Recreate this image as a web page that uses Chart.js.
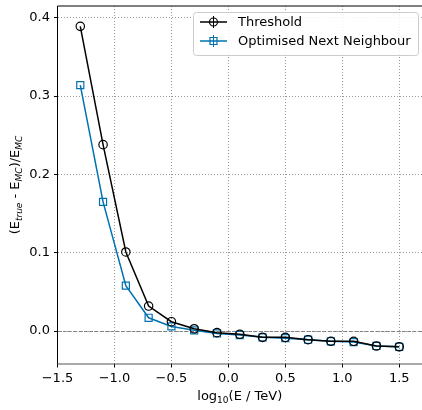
<!DOCTYPE html>
<html>
<head>
<meta charset="utf-8">
<script src="https://cdn.jsdelivr.net/npm/chart.js@4"></script>
<style>
  html, body { margin: 0; padding: 0; background: #fff; }
  #wrap { width: 422px; height: 410px; }
</style>
</head>
<body>
<div id="wrap"><canvas id="myChart" width="422" height="410"></canvas></div>
<script>
// data
const energies = [-1.3, -1.1, -0.9, -0.7, -0.5, -0.3, -0.1, 0.1, 0.3, 0.5, 0.7, 0.9, 1.1, 1.3, 1.5];
const thresholdBias = [0.389, 0.238, 0.101, 0.032, 0.012, 0.003, -0.002, -0.004, -0.008, -0.008, -0.011, -0.013, -0.013, -0.019, -0.020];
const nextNeighbourBias = [0.314, 0.165, 0.058, 0.017, 0.006, 0.001, -0.003, -0.005, -0.008, -0.009, -0.011, -0.013, -0.014, -0.019, -0.020];
const xTicks = [-1.5, -1.0, -0.5, 0.0, 0.5, 1.0, 1.5];
const yTicks = [0.0, 0.1, 0.2, 0.3, 0.4];
const seriesNames = ['Threshold', 'Optimised Next Neighbour'];
const seriesColors = ['#000000', '#0072B2'];

const FONT = '"DejaVu Sans", sans-serif';

function fmt(v) {
  const s = Math.abs(v).toFixed(1);
  return v < -1e-9 ? '\u2212' + s : s;
}

function toPoints(ys) {
  return energies.map((x, i) => ({ x: x, y: ys[i] }));
}

// zero line, spines, axis titles and legend
const extras = {
  id: 'extras',
  beforeDatasetsDraw(chart) {
    const ctx = chart.ctx;
    const a = chart.chartArea;
    const y0 = Math.round(chart.scales.y.getPixelForValue(0)) + 0.5;
    ctx.save();
    ctx.strokeStyle = '#808080';
    ctx.lineWidth = 1;
    ctx.setLineDash([3.7, 1.6]);
    ctx.beginPath();
    ctx.moveTo(a.left, y0);
    ctx.lineTo(a.right, y0);
    ctx.stroke();
    ctx.restore();
  },
  afterDraw(chart) {
    const ctx = chart.ctx;
    const a = chart.chartArea;
    ctx.save();
    // spines
    ctx.strokeStyle = '#000';
    ctx.lineWidth = 1;
    ctx.beginPath();
    ctx.moveTo(a.left, a.bottom);
    ctx.lineTo(a.left, a.top);
    ctx.lineTo(a.right + 1, a.top);
    ctx.stroke();
    ctx.strokeStyle = '#555';
    ctx.beginPath();
    ctx.moveTo(a.left, a.bottom);
    ctx.lineTo(a.right + 1, a.bottom);
    ctx.stroke();

    // axis titles with subscripts
    function drawRich(parts, x, y) {
      let w = 0;
      parts.forEach(p => {
        ctx.font = (p.sub ? (p.it ? 'italic 9px ' : '9px ') : '13px ') + FONT;
        w += ctx.measureText(p.t).width;
      });
      let cx = x - w / 2;
      parts.forEach(p => {
        ctx.font = (p.sub ? (p.it ? 'italic 9px ' : '9px ') : '13px ') + FONT;
        ctx.fillText(p.t, cx, p.sub ? y + 3 : y);
        cx += ctx.measureText(p.t).width;
      });
    }
    ctx.fillStyle = '#000';
    ctx.textBaseline = 'alphabetic';
    drawRich([
      { t: 'log' }, { t: '10', sub: true }, { t: '(E / TeV)' }
    ], (a.left + a.right) / 2, 400);

    ctx.save();
    ctx.translate(19, (a.top + a.bottom) / 2);
    ctx.rotate(-Math.PI / 2);
    drawRich([
      { t: '(E' }, { t: 'true', sub: true, it: true }, { t: ' - E' },
      { t: 'MC', sub: true, it: true }, { t: ')/E' }, { t: 'MC', sub: true, it: true }
    ], 0, 0);
    ctx.restore();

    // legend
    const lx = 193, ly = 12, lw = 225, lh = 43;
    ctx.fillStyle = 'rgba(255,255,255,0.85)';
    ctx.strokeStyle = '#cccccc';
    ctx.lineWidth = 1;
    ctx.beginPath();
    ctx.roundRect(lx + 0.5, ly + 0.5, lw, lh, 3);
    ctx.fill();
    ctx.stroke();
    const rows = [22, 41];
    rows.forEach((ry, i) => {
      const col = seriesColors[i];
      const mx = 213.5;
      ctx.strokeStyle = col;
      ctx.lineWidth = 1.5;
      ctx.beginPath();
      ctx.moveTo(200, ry);
      ctx.lineTo(227, ry);
      ctx.stroke();
      ctx.lineWidth = 1;
      ctx.beginPath();
      ctx.moveTo(mx, ry - 6);
      ctx.lineTo(mx, ry + 6);
      ctx.stroke();
      ctx.lineWidth = 1.2;
      ctx.beginPath();
      if (i === 0) {
        ctx.arc(mx, ry, 4, 0, Math.PI * 2);
      } else {
        ctx.rect(mx - 3.5, ry - 3.5, 7, 7);
      }
      ctx.stroke();
      ctx.fillStyle = '#000';
      ctx.font = '13px ' + FONT;
      ctx.textBaseline = 'middle';
      ctx.fillText(seriesNames[i], 238, ry + 0.5);
    });
    ctx.restore();
  }
};

const gridOpts = {
  color: '#999',
  lineWidth: 1,
  drawTicks: true,
  tickLength: 3.5,
  tickColor: '#000',
  tickBorderDash: []
};

const ctx = document.getElementById('myChart');
new Chart(ctx, {
  type: 'scatter',
  data: {
    datasets: [{
      label: seriesNames[0],
      data: toPoints(thresholdBias),
      showLine: true,
      borderColor: seriesColors[0],
      backgroundColor: 'rgba(0,0,0,0)',
      borderWidth: 1.5,
      pointStyle: 'circle',
      pointRadius: 4.2,
      pointBorderWidth: 1.2,
      pointBorderColor: seriesColors[0],
      pointBackgroundColor: 'rgba(0,0,0,0)'
    }, {
      label: seriesNames[1],
      data: toPoints(nextNeighbourBias),
      showLine: true,
      borderColor: seriesColors[1],
      backgroundColor: 'rgba(0,0,0,0)',
      borderWidth: 1.5,
      pointStyle: 'rect',
      pointRadius: 5,
      pointBorderWidth: 1.2,
      pointBorderColor: seriesColors[1],
      pointBackgroundColor: 'rgba(0,0,0,0)'
    }]
  },
  options: {
    responsive: false,
    animation: false,
    devicePixelRatio: 1,
    layout: { autoPadding: false, padding: { top: 6, right: 0, left: 0, bottom: 0 } },
    plugins: {
      legend: { display: false },
      tooltip: { enabled: false }
    },
    scales: {
      x: {
        type: 'linear',
        min: -1.5,
        max: 1.7,
        afterBuildTicks: s => { s.ticks = xTicks.map(v => ({ value: v })); },
        afterFit: s => { s.height = 46; s.paddingRight = 0; s.paddingLeft = 0; },
        border: { display: false, dash: [1, 2] },
        grid: gridOpts,
        ticks: {
          color: '#000',
          font: { family: FONT, size: 13 },
          padding: 3,
          maxRotation: 0,
          callback: v => fmt(v)
        }
      },
      y: {
        type: 'linear',
        min: -0.042,
        max: 0.415,
        afterBuildTicks: s => { s.ticks = yTicks.map(v => ({ value: v })); },
        afterFit: s => { s.width = 57.5; s.paddingTop = 0; s.paddingBottom = 0; },
        border: { display: false, dash: [1, 2] },
        grid: gridOpts,
        ticks: {
          color: '#000',
          font: { family: FONT, size: 13 },
          padding: 4,
          callback: v => fmt(v)
        }
      }
    }
  },
  plugins: [extras]
});
</script>
</body>
</html>
